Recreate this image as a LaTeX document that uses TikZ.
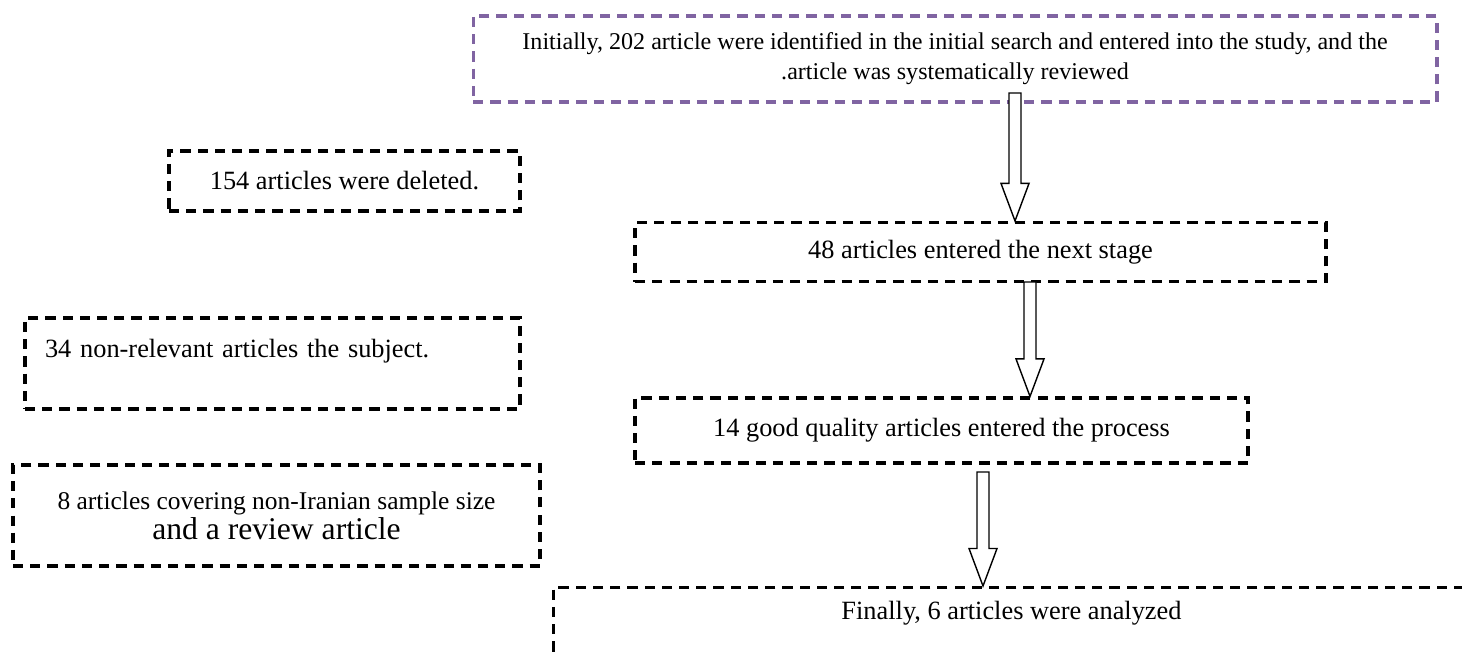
\documentclass[tikz,border=0pt]{standalone}
\usepackage{fontspec}
\setmainfont{Liberation Serif}
\usetikzlibrary{calc}
\definecolor{colFrame}{RGB}{128,100,162}

% hollow block arrow: #1 = start of shaft, #2 = tip
\newcommand{\hollowarrow}[2]{%
  \draw[blockarrow] let \p1=(#1), \p2=(#2) in
    (\x1-0.12cm,\y1) -- (\x1+0.12cm,\y1) -- (\x1+0.12cm,\y2+0.75cm)
    -- (\x1+0.28cm,\y2+0.75cm) -- (\x1,\y2) -- (\x1-0.28cm,\y2+0.75cm)
    -- (\x1-0.12cm,\y2+0.75cm) -- cycle;}

\begin{document}
\begin{tikzpicture}[
    x=0.02cm, y=-0.02cm,
    every node/.style={font=\fontsize{15}{17}\selectfont},
    box/.style={draw, line width=1.8pt, dash pattern=on 5.8pt off 4pt, inner sep=0pt},
    blockarrow/.style={draw, line width=0.8pt, fill=white}
]
    \clip (0,0) rectangle (1462,657);

    % boxes of the flow
    \node[box, colFrame, text=black, align=center, minimum width=19.28cm, minimum height=1.72cm,
          font=\fontsize{13.7}{17}\selectfont] (init) at (955,59)
        {Initially, 202 article were identified in the initial search and entered into the study, and the\\.article was systematically reviewed};
    \node[box, minimum width=13.82cm, minimum height=1.18cm] (stage) at (980.5,252) {48 articles entered the next stage};
    \node[box, minimum width=12.26cm, minimum height=1.3cm] (quality) at (941.5,430.5) {14 good quality articles entered the process};
    \node[box, anchor=north west, minimum width=18.32cm, text height=0.3cm, text depth=3cm, inner ysep=0.33cm] (final) at (552,586)
        {Finally, 6 articles were analyzed};

    % excluded articles
    \node[box, minimum width=7.02cm, minimum height=1.2cm] (deleted) at (344.5,181) {154 articles were deleted.};
    \node[box, align=left, text width=9.1cm, minimum width=9.9cm, minimum height=1.82cm] (irrelevant) at (272.5,363.5)
        {34 non-relevant articles the subject.\\\mbox{}};
    \node[box, align=center, minimum width=10.54cm, minimum height=2.02cm, font=\fontsize{14.5}{17}\selectfont] (iranian) at (276.5,515.5)
        {8 articles covering non-Iranian sample size\\{\fontsize{18}{18}\selectfont and a review article}};

    % arrows
    \coordinate (a1) at (1015,93);
    \coordinate (a2) at (1030,282);
    \coordinate (a3) at (983,472);
    \hollowarrow{a1}{a1 |- stage.north}
    \hollowarrow{a2}{a2 |- quality.north}
    \hollowarrow{a3}{a3 |- final.north}
\end{tikzpicture}
\end{document}
